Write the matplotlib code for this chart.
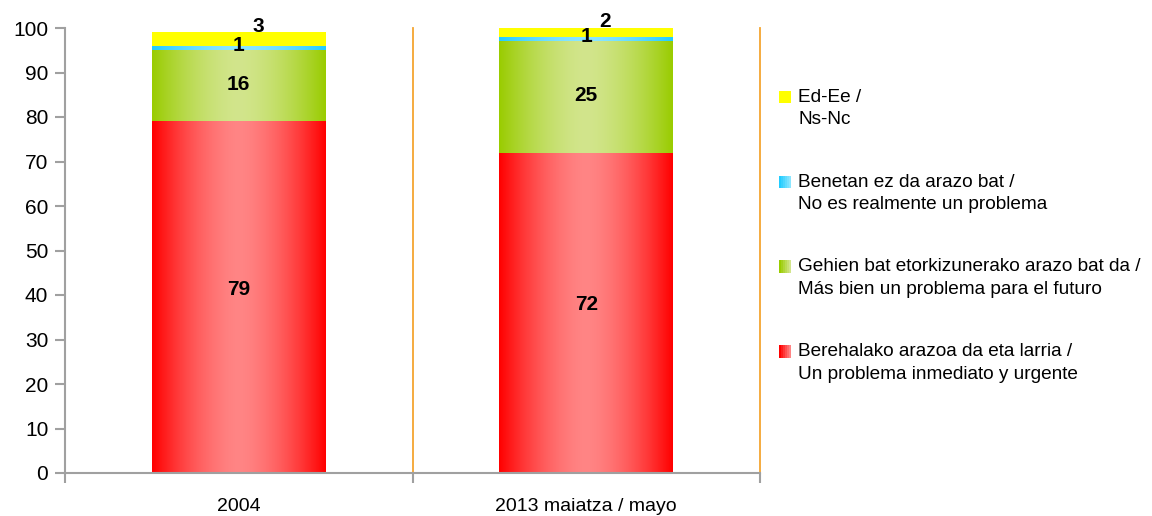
import numpy as np
import matplotlib.pyplot as plt
import matplotlib.colors as mcolors
from matplotlib.patches import Rectangle
from matplotlib.legend_handler import HandlerBase

plt.rcParams['font.family'] = ['Liberation Sans', 'DejaVu Sans']

# datos
categories = ['2004', '2013 maiatza / mayo']
inmediato = [79, 72]
futuro = [16, 25]
no_problema = [1, 1]
ns_nc = [3, 2]

labels = ['Berehalako arazoa da eta larria /\nUn problema inmediato y urgente',
          'Gehien bat etorkizunerako arazo bat da /\nMás bien un problema para el futuro',
          'Benetan ez da arazo bat /\nNo es realmente un problema',
          'Ed-Ee /\nNs-Nc']
series = [inmediato, futuro, no_problema, ns_nc]
# (color borde, color centro)
colors = [('#FF0000', '#FF8585'),
          ('#99CC00', '#D2E58C'),
          ('#22CCFF', '#8CE6FF'),
          ('#FFFF00', '#FFFF00')]


def gradient(edge, light, n=256):
    x = np.linspace(0, 1, n)
    t = np.abs(x - 0.5) * 2
    w = t ** 1.6
    e = np.array(mcolors.to_rgb(edge))
    l = np.array(mcolors.to_rgb(light))
    img = l[None, :] * (1 - w[:, None]) + e[None, :] * w[:, None]
    return img[None, :, :]


class GradHandler(HandlerBase):
    def __init__(self, edge, light):
        super().__init__()
        self.edge = np.array(mcolors.to_rgb(edge))
        self.light = np.array(mcolors.to_rgb(light))

    def create_artists(self, legend, orig_handle, xdescent, ydescent,
                       width, height, fontsize, trans):
        n = 6
        arts = []
        dy = 0.6 * fontsize  # alinear con la primera linea
        for k in range(n):
            w = 1 - k / (n - 1)
            c = self.light * (1 - w) + self.edge * w
            arts.append(Rectangle((-xdescent + k * width / n, -ydescent + dy),
                                  width / n + 0.2, height, facecolor=c,
                                  edgecolor='none', transform=trans))
        return arts


fig = plt.figure(figsize=(11.52, 5.16), dpi=100)
ax = fig.add_axes([65 / 1152, 1 - 473 / 516, (760 - 65) / 1152, (473 - 28) / 516])

x = np.arange(len(categories))
bottom = np.zeros(len(categories))
handles = []
for vals, (edge, light), lab in zip(series, colors, labels):
    bars = ax.bar(x, vals, width=0.5, bottom=bottom, color='none',
                  edgecolor='none', label=lab)
    img = gradient(edge, light)
    for b in bars:
        im = ax.imshow(img, extent=[b.get_x(), b.get_x() + b.get_width(),
                                    b.get_y(), b.get_y() + b.get_height()],
                       aspect='auto', zorder=2)
        im.set_clip_path(b)
    handles.append(bars)
    bottom += np.array(vals)

# etiquetas de datos
offsets = [1.8, 0.4, 0.6]
b0 = np.zeros(len(categories))
for i, vals in enumerate(series):
    for j, v in enumerate(vals):
        if i == 3:
            ax.text(x[j] + 0.055, b0[j] + v + 1.4, str(v), ha='center', va='center',
                    fontsize=15, fontweight='bold', zorder=5, clip_on=False)
        else:
            ax.text(x[j], b0[j] + v / 2 + offsets[i], str(v), ha='center', va='center',
                    fontsize=15, fontweight='bold', zorder=5)
    b0 += np.array(vals)

ax.set_xlim(-0.5, 1.5)
ax.set_ylim(0, 100)
ax.set_yticks(range(0, 101, 10))
ax.set_xticks([-0.5, 0.5, 1.5])
ax.set_xticklabels([])
ax.set_xticks(x, minor=True)
ax.set_xticklabels(categories, minor=True)

gray = '#A0A0A0'
ax.tick_params(axis='x', which='minor', length=0, pad=18, labelsize=14)
ax.tick_params(axis='x', which='major', length=7, width=1.5, color=gray)
ax.tick_params(axis='y', length=7, width=1.5, color=gray, pad=5, labelsize=15)
for s in ['top', 'right']:
    ax.spines[s].set_visible(False)
for s in ['left', 'bottom']:
    ax.spines[s].set_color(gray)
    ax.spines[s].set_linewidth(1.5)

for xv in [0.5, 1.5]:
    ax.axvline(xv, color='#F5A530', lw=1.3, zorder=1, clip_on=False)

# leyenda (orden inverso)
hmap = {h: GradHandler(*c) for h, c in zip(handles, colors)}
leg = ax.legend(handles[::-1], labels[::-1], handler_map=hmap,
                loc='upper left', bbox_to_anchor=(779 / 1152, 1 - 89 / 516),
                bbox_transform=fig.transFigure, frameon=False, fontsize=13.7,
                handlelength=0.62, handleheight=0.62, handletextpad=0.4,
                labelspacing=2.38, borderpad=0, borderaxespad=0)
for t in leg.get_texts():
    t.set_linespacing(1.42)

fig.savefig('out.png', dpi=100)
